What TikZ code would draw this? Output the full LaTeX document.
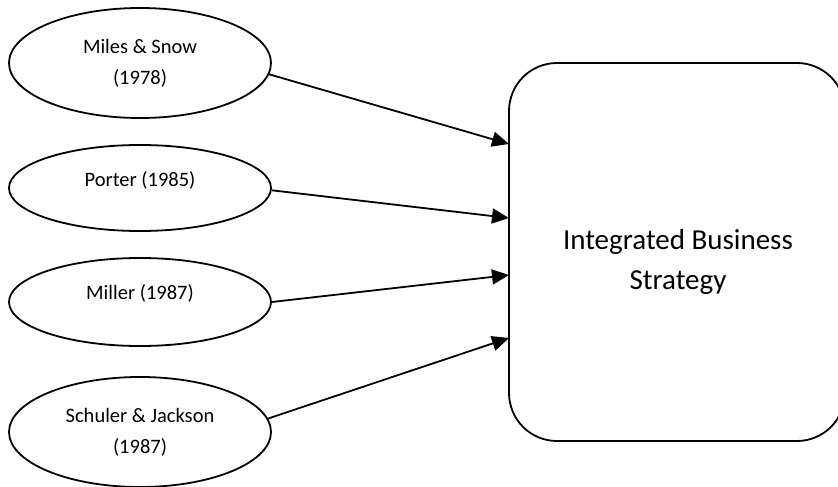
\documentclass[tikz,border=0pt]{standalone}
\usepackage{fontspec}
\setmainfont{Carlito}
\usetikzlibrary{shapes.geometric,arrows.meta}
\tikzset{
  ell/.style={draw=black, line width=1.8pt, ellipse, minimum width=262pt, inner sep=0pt},
  lbl/.style={font=\fontsize{20.5}{31}\selectfont, align=center, inner sep=0pt},
  bigbox/.style={draw=black, line width=1.8pt, rounded corners=48pt},
  arr/.style={line width=1.8pt, -{Triangle[length=17pt,width=15pt]}}
}
\begin{document}
\begin{tikzpicture}[x=1pt,y=-1pt]
\clip (0,0) rectangle (838,487);
\fill[white] (0,0) rectangle (838,487);
\node[ell, minimum height=110pt, label={[lbl]center:Miles \& Snow\\(1978)}] (e1) at (140,63) {};
\node[ell, minimum height=86pt, label={[lbl,yshift=8pt]center:Porter (1985)}] (e2) at (140,188) {};
\node[ell, minimum height=88pt, label={[lbl,yshift=9pt]center:Miller (1987)}] (e3) at (140,302) {};
\node[ell, minimum height=110pt, label={[lbl]center:Schuler \& Jackson\\(1987)}] (e4) at (140,432) {};
\draw[bigbox] (509,63) rectangle (845,441);
\node[font=\fontsize{29}{40}\selectfont, align=center, inner sep=0pt] (ibs) at (678,262) {Integrated Business\\Strategy};
\coordinate (t1) at (509,144);
\coordinate (t2) at (509,218);
\coordinate (t3) at (509,275);
\coordinate (t4) at (509,338);
\draw[arr] (e1.-5) -- (t1);
\draw[arr] (e2.-1) -- (t2);
\draw[arr] (e3.0) -- (t3);
\draw[arr] (e4.6) -- (t4);
\end{tikzpicture}
\end{document}
